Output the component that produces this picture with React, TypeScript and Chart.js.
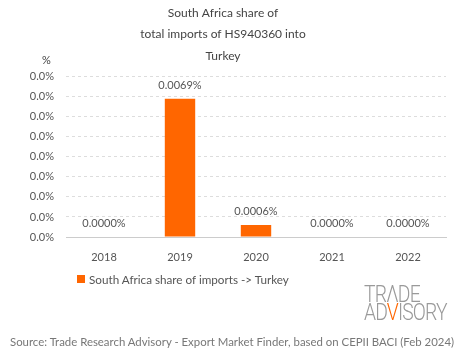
import React, { useEffect, useRef } from "react";
import { Chart, registerables } from "chart.js";

Chart.register(...registerables);

const years = ["2018", "2019", "2020", "2021", "2022"];
const shareValues = [0.0, 0.0069, 0.0006, 0.0, 0.0];
const titleLines = ["South Africa share of", "total imports of HS940360 into", "Turkey"];
const seriesLabel = "South Africa share of imports -> Turkey";
const sourceText = "Source: Trade Research Advisory - Export Market Finder, based on CEPII BACI (Feb 2024)";

const FONT = "Lato, 'Open Sans', sans-serif";
const ORANGE = "#FF6600";

const valueLabels = {
  id: "valueLabels",
  afterDatasetsDraw(chart: any) {
    const ctx = chart.ctx;
    const meta = chart.getDatasetMeta(0);
    ctx.save();
    ctx.font = `11px ${FONT}`;
    ctx.fillStyle = "#555";
    ctx.textAlign = "center";
    ctx.textBaseline = "bottom";
    meta.data.forEach((bar: any, i: number) => {
      ctx.fillText(shareValues[i].toFixed(4) + "%", bar.x, bar.y - 8);
    });
    ctx.restore();
  },
};

export default function App() {
  const ref = useRef<HTMLCanvasElement>(null);
  useEffect(() => {
    if (!ref.current) return;
    const chart = new Chart(ref.current, {
      type: "bar",
      data: {
        labels: years,
        datasets: [
          {
            label: seriesLabel,
            data: shareValues,
            backgroundColor: ORANGE,
            categoryPercentage: 0.8,
            barPercentage: 0.5,
          },
        ],
      },
      options: {
        responsive: false,
        animation: false,
        layout: { padding: { left: 0, right: 19, top: 0, bottom: 0 } },
        plugins: {
          legend: { display: false },
          tooltip: { enabled: false },
          title: {
            display: true,
            text: titleLines,
            color: "#444",
            font: { family: FONT, size: 12, weight: "normal", lineHeight: 1.8 },
            padding: { top: 2, bottom: 10 },
          },
        },
        scales: {
          x: {
            grid: { display: false },
            border: { display: true, color: "#ccc" },
            ticks: { color: "#555", font: { family: FONT, size: 11 }, padding: 6 },
            afterFit: (s: any) => {
              s.height = 122;
            },
          },
          y: {
            min: 0,
            max: 0.008,
            border: { display: false, dash: [3, 3] },
            grid: {
              drawTicks: false,
              color: (c: any) => (c.tick && c.tick.value === 0 ? "rgba(0,0,0,0)" : "#ddd"),
            },
            ticks: {
              stepSize: 0.001,
              color: "#555",
              font: { family: FONT, size: 11 },
              padding: 12,
              callback: (v: any) => Number(v).toFixed(1) + "%",
            },
            afterFit: (s: any) => {
              s.width = 66;
            },
          },
        },
      },
      plugins: [valueLabels],
    });
    return () => chart.destroy();
  }, []);

  return (
    <div style={{ position: "fixed", left: 0, top: 0, width: 465, height: 359, background: "#fff", fontFamily: FONT }}>
      <canvas ref={ref} width={465} height={359} style={{ position: "absolute", left: 0, top: 0 }} />
      <div style={{ position: "absolute", left: 42, top: 53, fontSize: 11, color: "#444" }}>%</div>
      <div style={{ position: "absolute", left: 77, top: 272, display: "flex", alignItems: "center", fontSize: 11.7, color: "#555" }}>
        <span style={{ display: "inline-block", width: 8, height: 8, background: ORANGE, marginRight: 4 }} />
        <span>{seriesLabel}</span>
      </div>
      <div style={{ position: "absolute", left: 364, top: 286, color: "#9a9a9a", fontFamily: "Roboto, sans-serif", fontWeight: 300, fontSize: 23, lineHeight: "18px", transform: "scaleX(0.84)", transformOrigin: "left top", letterSpacing: -1 }}>
        <div>TR<span>Λ</span>DE</div>
        <div>AD<span style={{ color: ORANGE }}>V</span>ISORY</div>
      </div>
      <div style={{ position: "absolute", left: 10, top: 335, fontSize: 11.4, color: "#777", whiteSpace: "nowrap" }}>{sourceText}</div>
    </div>
  );
}
